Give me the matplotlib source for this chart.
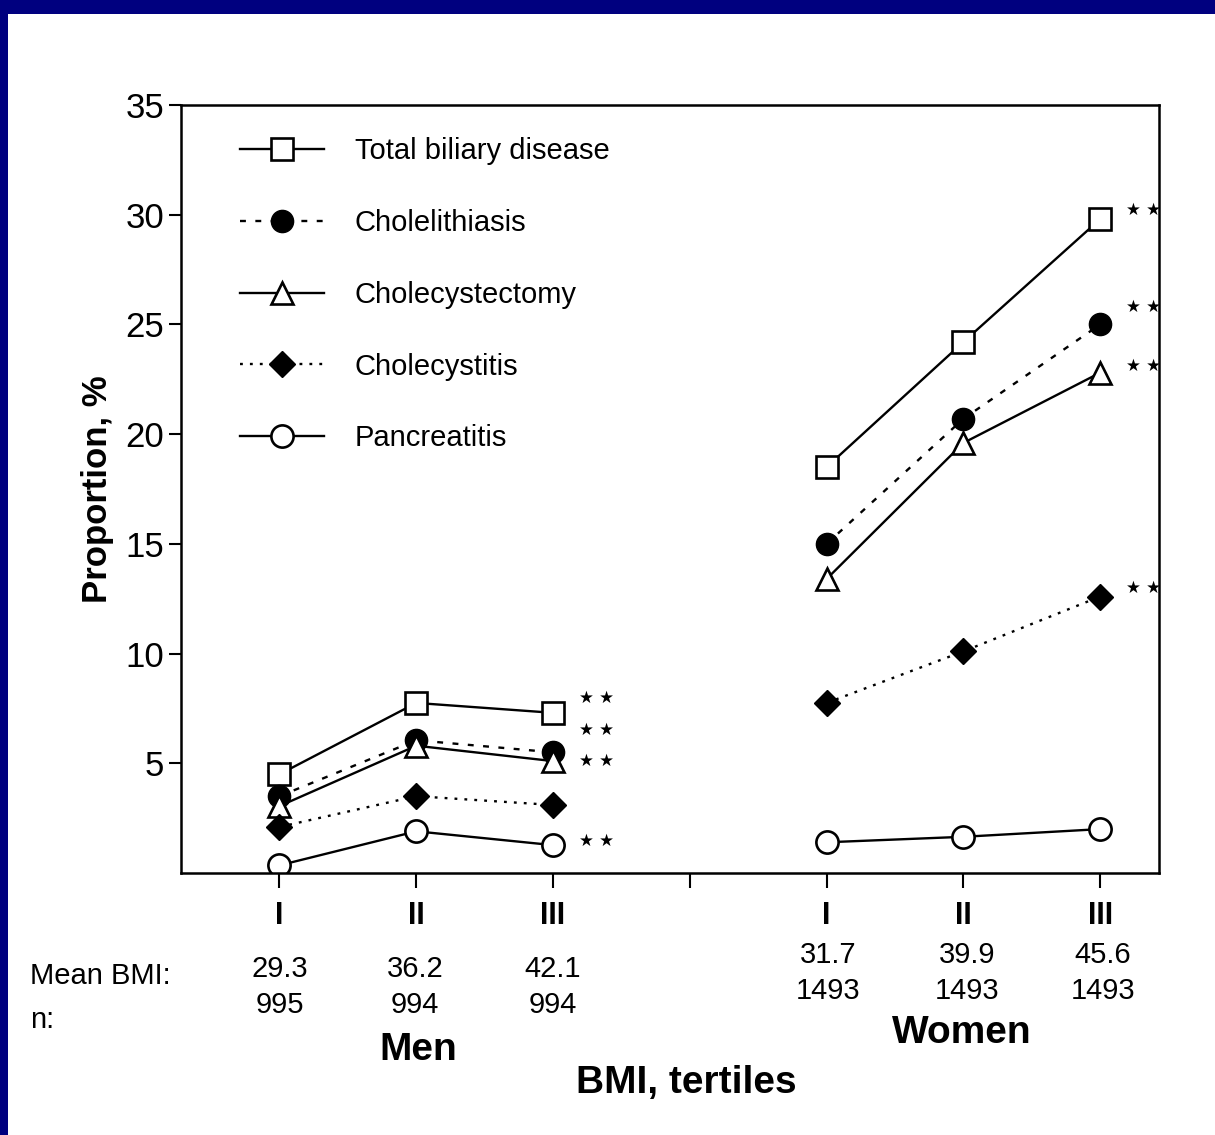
import matplotlib
matplotlib.use("Agg")
import matplotlib.pyplot as plt
import matplotlib.patches as mpatches
import numpy as np

plt.rcParams['font.family'] = ['Liberation Sans', 'DejaVu Sans']

# tertile groups: men I-III, gap, women I-III
tick_labels = ['I', 'II', 'III', '', 'I', 'II', 'III']
nan = np.nan
total_biliary = [4.5, 7.75, 7.3, nan, 18.5, 24.2, 29.8]
cholelithiasis = [3.5, 6.05, 5.5, nan, 15.0, 20.7, 25.0]
cholecystectomy = [3.05, 5.8, 5.1, nan, 13.4, 19.6, 22.8]
cholecystitis = [2.1, 3.5, 3.1, nan, 7.75, 10.1, 12.6]
pancreatitis = [0.35, 1.9, 1.27, nan, 1.4, 1.65, 2.0]

mean_bmi_men = ['29.3', '36.2', '42.1']
n_men = ['995', '994', '994']
mean_bmi_women = ['31.7', '39.9', '45.6']
n_women = ['1493', '1493', '1493']

# significance marks (**): series name, group index, vertical nudge
star_series = ['total', 'lith', 'ectomy', 'panc', 'total', 'lith', 'ectomy', 'itis']
star_group = [2, 2, 2, 2, 6, 6, 6, 6]
star_dy = [0.7, 1.0, 0.0, 0.2, 0.4, 0.8, 0.3, 0.4]

W, H = 1215, 1135
fig = plt.figure(figsize=(W / 100, H / 100), dpi=100)
fig.patch.set_facecolor('#00007f')
fig.patches.append(mpatches.Rectangle((8 / W, 0), 1, 1 - 14 / H, transform=fig.transFigure,
                                      facecolor='white', edgecolor='none', zorder=-1))

ax = fig.add_axes([181 / W, 1 - 873 / H, (1159 - 181) / W, (873 - 105) / H])
x = np.arange(7)

ms = 16
lw = 1.7
series = {}
series['total'] = ax.plot(x, total_biliary, '-', color='black', lw=lw, marker='s', ms=ms,
                          mfc='white', mec='black', mew=1.9, label='Total biliary disease')[0]
series['lith'] = ax.plot(x, cholelithiasis, color='black', lw=lw, ls=(0, (2.5, 4)), marker='o', ms=ms,
                         mfc='black', mec='black', label='Cholelithiasis')[0]
series['ectomy'] = ax.plot(x, cholecystectomy, '-', color='black', lw=lw, marker='^', ms=ms,
                           mfc='white', mec='black', mew=1.9, label='Cholecystectomy')[0]
series['itis'] = ax.plot(x, cholecystitis, color='black', lw=lw, ls=(0, (1.2, 3)), marker='D', ms=13,
                         mfc='black', mec='black', label='Cholecystitis')[0]
series['panc'] = ax.plot(x, pancreatitis, '-', color='black', lw=lw, marker='o', ms=ms,
                         mfc='white', mec='black', mew=1.9, label='Pancreatitis')[0]

data_by_name = {'total': total_biliary, 'lith': cholelithiasis, 'ectomy': cholecystectomy,
                'itis': cholecystitis, 'panc': pancreatitis}
for s, g, dy in zip(star_series, star_group, star_dy):
    ax.annotate('★ ★', (g, data_by_name[s][g] + dy), xytext=(31, 0), textcoords='offset points',
                fontsize=12, family='DejaVu Sans', va='center', ha='center')

ax.set_xlim(-0.72, 6.43)
ax.set_ylim(0, 35)
ax.set_yticks([5, 10, 15, 20, 25, 30, 35])
ax.tick_params(axis='y', labelsize=25, length=9, width=1.5, pad=3)
ax.set_xticks(x)
ax.set_xticklabels(tick_labels, fontsize=22, fontweight='bold')
ax.tick_params(axis='x', length=11, width=1.5, pad=9)
for sp in ax.spines.values():
    sp.set_linewidth(1.8)

ax.set_ylabel('Proportion, %', fontsize=25, fontweight='bold', labelpad=8)

ax.legend(loc='upper left', bbox_to_anchor=(0.06, 0.958), frameon=False, fontsize=21,
          handlelength=2.9, handletextpad=1.05, labelspacing=1.5, borderpad=0, borderaxespad=0,
          markerscale=1.0)


def ftext(px, py, s, **kw):
    fig.text(px / W, 1 - py / H, s, ha='center', va='center', **kw)


men_x = [280, 415, 553]
women_x = [828, 967, 1103]
for xi, b, n in zip(men_x, mean_bmi_men, n_men):
    ftext(xi, 969, b, fontsize=21)
    ftext(xi, 1005, n, fontsize=21)
for xi, b, n in zip(women_x, mean_bmi_women, n_women):
    ftext(xi, 955, b, fontsize=21)
    ftext(xi, 991, n, fontsize=21)
fig.text(30 / W, 1 - 976 / H, 'Mean BMI:', ha='left', va='center', fontsize=21)
fig.text(30 / W, 1 - 1020 / H, 'n:', ha='left', va='center', fontsize=21)
ftext(418, 1050, 'Men', fontsize=28, fontweight='bold')
ftext(962, 1033, 'Women', fontsize=28, fontweight='bold')
ftext(686, 1083, 'BMI, tertiles', fontsize=28, fontweight='bold')

fig.savefig('out.png', dpi=100, facecolor=fig.get_facecolor())
